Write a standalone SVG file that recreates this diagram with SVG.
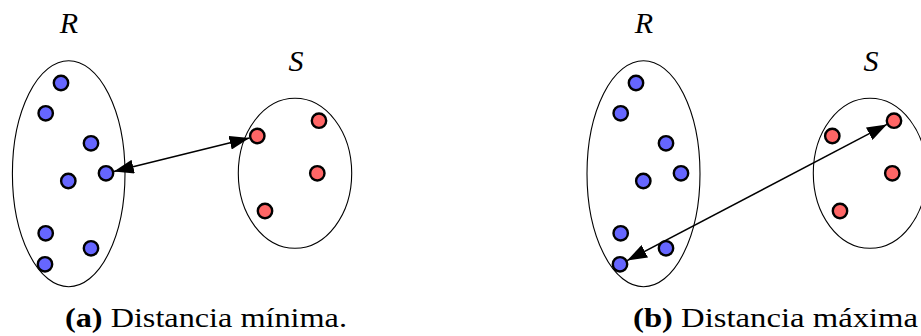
<svg xmlns="http://www.w3.org/2000/svg" width="921" height="336" viewBox="0 0 921 336">
<style>
.set{fill:none;stroke:#000;stroke-width:1.1}
.b{fill:#6666ff;stroke:#000;stroke-width:2.4}
.r{fill:#ff6666;stroke:#000;stroke-width:2.4}
.lbl{font-family:"Liberation Serif","Times New Roman",serif;font-style:italic;font-size:30px;fill:#000}
.cap{font-family:"Liberation Serif","Times New Roman",serif;font-size:27px;fill:#000}
.edge{stroke:#000;stroke-width:1.5;fill:none;marker-start:url(#ah);marker-end:url(#ah)}
</style>
<defs>
<marker id="ah" markerUnits="userSpaceOnUse" markerWidth="20" markerHeight="14" refX="20" refY="7" orient="auto-start-reverse" viewBox="0 0 20 14">
<path d="M0,0 L20,7 L0,14 z" fill="#000"/>
</marker>
</defs>
<g id="panel-a">
<g id="a-R">
<ellipse class="set" cx="68.7" cy="173.7" rx="56.3" ry="113"/>
<text class="lbl" x="69" y="33" text-anchor="middle">R</text>
<circle class="b" cx="61" cy="83" r="7.2"/>
<circle class="b" cx="45.7" cy="113.3" r="7.2"/>
<circle class="b" cx="91" cy="143.3" r="7.2"/>
<circle class="b" cx="106" cy="173.3" r="7.2"/>
<circle class="b" cx="68.3" cy="181" r="7.2"/>
<circle class="b" cx="45.7" cy="233.3" r="7.2"/>
<circle class="b" cx="91" cy="248.3" r="7.2"/>
<circle class="b" cx="45" cy="264.3" r="7.2"/>
</g>
<g id="a-S">
<ellipse class="set" cx="295" cy="173.3" rx="56.7" ry="75"/>
<text class="lbl" x="296" y="71" text-anchor="middle">S</text>
<circle class="r" cx="319" cy="120.7" r="7.2"/>
<circle class="r" cx="257.3" cy="136" r="7.2"/>
<circle class="r" cx="317.3" cy="173.3" r="7.2"/>
<circle class="r" cx="265" cy="211" r="7.2"/>
</g>
<g id="a-caption">
<text class="cap" x="65" y="327" textLength="282" lengthAdjust="spacingAndGlyphs"><tspan font-weight="bold">(a)</tspan> Distancia mínima.</text>
</g>
</g>
<g id="panel-b">
<g id="b-R">
<ellipse class="set" cx="643.5" cy="173.7" rx="56.5" ry="113"/>
<text class="lbl" x="644" y="33" text-anchor="middle">R</text>
<circle class="b" cx="636" cy="83" r="7.2"/>
<circle class="b" cx="620.7" cy="113.3" r="7.2"/>
<circle class="b" cx="666" cy="143.3" r="7.2"/>
<circle class="b" cx="681" cy="173.3" r="7.2"/>
<circle class="b" cx="643.3" cy="181" r="7.2"/>
<circle class="b" cx="620.7" cy="233.3" r="7.2"/>
<circle class="b" cx="666" cy="248.3" r="7.2"/>
<circle class="b" cx="620" cy="264.3" r="7.2"/>
</g>
<g id="b-S">
<ellipse class="set" cx="870" cy="173.3" rx="56.7" ry="75"/>
<text class="lbl" x="871" y="71" text-anchor="middle">S</text>
<circle class="r" cx="894" cy="120.7" r="7.2"/>
<circle class="r" cx="832.3" cy="136" r="7.2"/>
<circle class="r" cx="892.3" cy="173.3" r="7.2"/>
<circle class="r" cx="840" cy="211" r="7.2"/>
</g>
<g id="b-caption">
<text class="cap" x="633" y="327" textLength="285" lengthAdjust="spacingAndGlyphs"><tspan font-weight="bold">(b)</tspan> Distancia máxima</text>
</g>
</g>
<g id="connectors">
<line class="edge" x1="113.8" y1="171.4" x2="249.5" y2="137.9"/>
<line class="edge" x1="627.1" y1="260.6" x2="886.9" y2="124.4"/>
</g>
</svg>
